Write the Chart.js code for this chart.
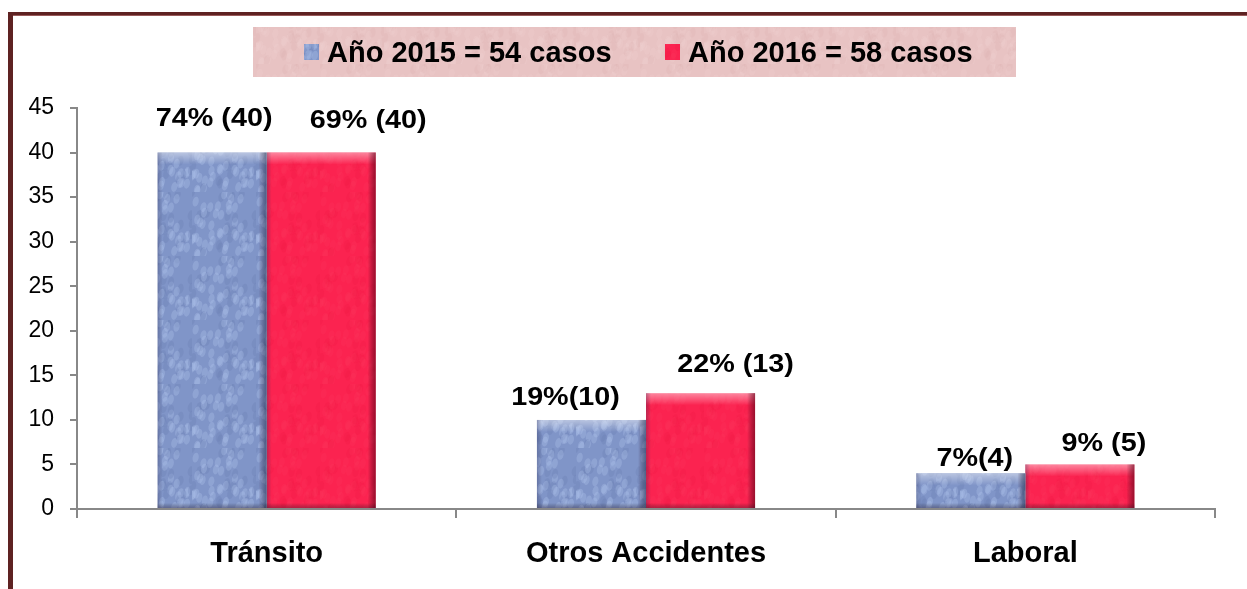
<!DOCTYPE html>
<html>
<head>
<meta charset="utf-8">
<script src="https://cdn.jsdelivr.net/npm/chart.js@4/dist/chart.umd.min.js"></script>
<style>
  html, body { margin: 0; padding: 0; background: #fff; }
  #wrap { width: 1247px; height: 589px; }
</style>
</head>
<body>
<div id="wrap"><canvas id="accidentes_chart" width="1247" height="589"></canvas></div>
<script>
var categories = ["Tránsito", "Otros Accidentes", "Laboral"];
var seriesNames = ["Año 2015 = 54 casos", "Año 2016 = 58 casos"];
var casos2015 = [40, 10, 4];
var casos2016 = [40, 13, 5];
var etiquetas2015 = ["74% (40)", "19%(10)", "7%(4)"];
var etiquetas2016 = ["69% (40)", "22% (13)", "9% (5)"];
var yTicks = [0, 5, 10, 15, 20, 25, 30, 35, 40, 45];

// little texture tiles so the bars look like the old office fills
function makeTexture(base, light, dark, alpha) {
    var c = document.createElement("canvas");
    c.width = 64; c.height = 64;
    var g = c.getContext("2d");
    g.fillStyle = base;
    g.fillRect(0, 0, 64, 64);
    for (var i = 0; i < 70; i++) {
        var px = Math.abs((Math.sin(i * 12.9898) * 43758.5453) % 1) * 64;
        var py = Math.abs((Math.sin(i * 78.233) * 12345.678) % 1) * 64;
        g.fillStyle = i % 3 == 0 ? dark : light;
        g.globalAlpha = alpha;
        g.beginPath();
        g.ellipse(px, py, 3, 5, 0.2, 0, Math.PI * 2);
        g.fill();
    }
    return g.canvas;
}

const chartElement = document.getElementById("accidentes_chart");
const ctx0 = chartElement.getContext("2d");
const blueFill = ctx0.createPattern(makeTexture("#8095c8", "#b4c6ee", "#6a7fb2", 0.3), "repeat");
const redFill = ctx0.createPattern(makeTexture("#fb2350", "#ff4068", "#e8153f", 0.15), "repeat");
const pinkFill = ctx0.createPattern(makeTexture("#e8c3c3", "#f3d6d6", "#d9aeae", 0.18), "repeat");

// per label nudge [dx, dy above bar top], like the hand placed labels of the original
const labelShift2015 = [[2, 27], [-26, 15], [4, 7]];
const labelShift2016 = [[47, 25], [35, 21], [24, 13]];

const framePlugin = {
    id: "frame",
    beforeDraw(chart) {
        const c = chart.ctx;
        c.save();
        c.fillStyle = "#fff";
        c.fillRect(0, 0, chart.width, chart.height);
        c.fillStyle = "#5e2222";
        c.fillRect(8, 12, chart.width - 8, 3);
        c.fillRect(8, 12, 5, chart.height - 12);
        c.fillStyle = "#9a5a5a";
        c.fillRect(13, 15, chart.width - 13, 1);
        c.restore();
    },
    afterDraw(chart) {
        // legend box
        const c = chart.ctx;
        c.save();
        c.fillStyle = pinkFill;
        c.fillRect(253, 27, 763, 50);
        const fills = [blueFill, redFill];
        const xs = [304, 665];
        c.font = "bold 29px 'Liberation Sans', Arial, sans-serif";
        c.textBaseline = "alphabetic";
        chart.data.datasets.forEach((ds, i) => {
            c.fillStyle = fills[i];
            c.fillRect(xs[i], 44, 15, 16);
            c.fillStyle = "#000";
            c.fillText(ds.label, xs[i] + 23, 62);
        });
        c.restore();
    },
    afterDatasetsDraw(chart, args, opts) {
        const c = chart.ctx;
        c.save();
        chart.data.datasets.forEach((ds, di) => {
            const meta = chart.getDatasetMeta(di);
            meta.data.forEach((bar, j) => {
                const p = bar.getProps(["x", "y", "width", "base"], true);
                const l = p.x - p.width / 2, t = p.y, h = p.base - p.y, w = p.width;
                // bevel: light top, dark right and bottom
                let gTop = c.createLinearGradient(0, t, 0, t + 12);
                gTop.addColorStop(0, "rgba(255,255,255,0.45)");
                gTop.addColorStop(1, "rgba(255,255,255,0)");
                c.fillStyle = gTop;
                c.fillRect(l, t, w, Math.min(12, h));
                let gR = c.createLinearGradient(l + w - 8, 0, l + w, 0);
                gR.addColorStop(0, "rgba(40,0,20,0)");
                gR.addColorStop(1, di == 0 ? "rgba(30,50,80,0.55)" : "rgba(90,0,20,0.6)");
                c.fillStyle = gR;
                c.fillRect(l + w - 8, t, 8, h);
                let gL = c.createLinearGradient(l, 0, l + 5, 0);
                gL.addColorStop(0, "rgba(40,40,80,0.3)");
                gL.addColorStop(1, "rgba(40,40,80,0)");
                c.fillStyle = gL;
                c.fillRect(l, t, 5, h);
                let gB = c.createLinearGradient(0, p.base - 5, 0, p.base);
                gB.addColorStop(0, "rgba(0,0,0,0)");
                gB.addColorStop(1, "rgba(40,20,40,0.35)");
                c.fillStyle = gB;
                c.fillRect(l, p.base - 5, w, 5);

                // value labels
                const shift = (di == 0 ? labelShift2015 : labelShift2016)[j];
                c.font = "bold 25px 'Liberation Sans', Arial, sans-serif";
                c.textAlign = "center";
                c.textBaseline = "alphabetic";
                c.fillStyle = "#000";
                c.save();
                c.translate(p.x + shift[0], p.y - shift[1]);
                c.scale(1.15, 1);
                c.fillText(ds.etiquetas[j], 0, 0);
                c.restore();
            });
        });
        c.restore();
    }
};

const accidentesChart = new Chart(chartElement, {
    type: "bar",
    data: {
        labels: categories,
        datasets: [{
            label: seriesNames[0],
            data: casos2015,
            etiquetas: etiquetas2015,
            backgroundColor: blueFill,
            borderWidth: 0
        }, {
            label: seriesNames[1],
            data: casos2016,
            etiquetas: etiquetas2016,
            backgroundColor: redFill,
            borderWidth: 0
        }]
    },
    options: {
        responsive: false,
        animation: false,
        layout: { padding: { top: 108, right: 32, bottom: 0, left: 0 } },
        categoryPercentage: 0.575,
        barPercentage: 1.0,
        scales: {
            y: {
                min: 0,
                max: 45,
                afterFit(scale) { scale.width = 77; },
                afterBuildTicks(scale) { scale.ticks = yTicks.map(v => ({ value: v })); },
                ticks: {
                    color: "#000",
                    padding: 16,
                    font: { family: "'Liberation Sans', Arial, sans-serif", size: 23 }
                },
                grid: { drawOnChartArea: false, tickLength: 7, color: "#888", lineWidth: 2 },
                border: { color: "#888", width: 2 }
            },
            x: {
                afterFit(scale) { scale.height = 80; },
                ticks: {
                    color: "#000",
                    padding: 19,
                    font: { family: "'Liberation Sans', Arial, sans-serif", size: 29, weight: "bold" }
                },
                grid: { drawOnChartArea: false, offset: true, tickLength: 9, color: "#888", lineWidth: 2 },
                border: { color: "#888", width: 2 }
            }
        },
        plugins: {
            legend: { display: false },
            tooltip: { enabled: false }
        }
    },
    plugins: [framePlugin]
});
</script>
</body>
</html>
